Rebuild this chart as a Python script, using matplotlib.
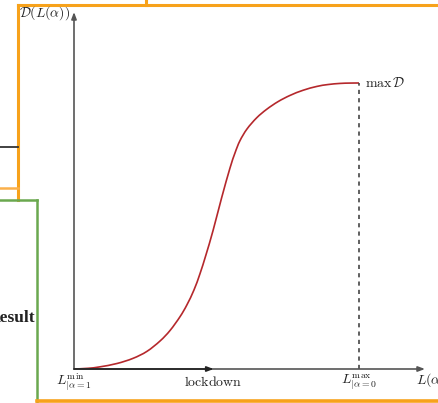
import matplotlib
matplotlib.use("Agg")
import matplotlib.pyplot as plt
from matplotlib.lines import Line2D
from matplotlib.path import Path
from matplotlib.patches import PathPatch

plt.rcParams['mathtext.fontset'] = 'cm'
plt.rcParams['font.family'] = ['DejaVu Serif']

# Curve data (normalized: L from L_min=0 to L_max=1, D from 0 to max D = 1)
L_vals = [0.0, 0.049, 0.091, 0.151, 0.207, 0.256, 0.302, 0.337, 0.372, 0.396, 0.421,
          0.442, 0.463, 0.488, 0.518, 0.547, 0.565, 0.582, 0.607, 0.641, 0.676, 0.716,
          0.758, 0.804, 0.852, 0.891, 0.933, 0.968, 1.0]
D_vals = [0.0, 0.0024, 0.0075, 0.0193, 0.0372, 0.0617, 0.098, 0.1347, 0.1829, 0.2239, 0.2764,
          0.333, 0.399, 0.4846, 0.5986, 0.7016, 0.7557, 0.7977, 0.8392, 0.8783, 0.908, 0.9349,
          0.9566, 0.9747, 0.988, 0.9946, 0.9985, 0.9997, 1.0]
lockdown_L = 0.49
x_tick_labels = [r'$L^{\min}_{|\alpha=1}$', r'$\mathrm{lockdown}$', r'$L^{\max}_{|\alpha=0}$']
x_label = r'$L(\alpha)$'
y_label = r'$\mathcal{D}(L(\alpha))$'
max_label = r'$\max\,\mathcal{D}$'

W, H = 439, 403
fig = plt.figure(figsize=(W / 100, H / 100), dpi=100)
fig.patch.set_facecolor('white')

# overlay for screenshot frame decorations (pixel coords)
ov = fig.add_axes([0, 0, 1, 1])
ov.set_xlim(0, W)
ov.set_ylim(H, 0)
ov.axis('off')
orange = '#f7a21b'
green = '#6aa84f'
ov.add_line(Line2D([18, W], [5, 5], color=orange, lw=2.2))
ov.add_line(Line2D([146, 146], [0, 5], color=orange, lw=2.2))
ov.add_line(Line2D([18, 18], [5, 200], color=orange, lw=2.2))
ov.add_line(Line2D([0, 18], [188, 188], color='#fbb04a', lw=1.8))
ov.add_line(Line2D([0, 18], [147, 147], color='#333333', lw=1.3))
ov.add_line(Line2D([0, 37], [200, 200], color=green, lw=1.8))
ov.add_line(Line2D([37, 37], [200, H], color=green, lw=1.8))
ov.add_line(Line2D([37, W], [401, 401], color=orange, lw=2.6))
ov.text(35, 318, 'Result', ha='right', va='center', fontsize=12.5,
        fontweight='bold', family='Liberation Serif', color='#222222')

# main axes
x0_px, x1_px = 74, 359
y0_px, y1_px = 369, 83
sx = (x1_px - x0_px)
sy = (y0_px - y1_px)
xmax = (425 - x0_px) / sx
ymax = (y0_px - 12) / sy
ax = fig.add_axes([x0_px / W, (H - y0_px) / H, (425 - x0_px) / W, (y0_px - 12) / H])
ax.set_xlim(0, xmax)
ax.set_ylim(0, ymax)
ax.axis('off')
ax.patch.set_alpha(0)

axc = '#555555'
ax.annotate('', xy=(0, ymax), xytext=(0, 0),
            arrowprops=dict(arrowstyle='-|>,head_length=0.4,head_width=0.15', color=axc, lw=1.2,
                            shrinkA=0, shrinkB=0))
ax.annotate('', xy=(xmax, 0), xytext=(0, 0),
            arrowprops=dict(arrowstyle='-|>,head_length=0.4,head_width=0.15', color=axc, lw=1.2,
                            shrinkA=0, shrinkB=0))
ax.annotate('', xy=(lockdown_L, 0), xytext=(0, 0),
            arrowprops=dict(arrowstyle='-|>,head_length=0.4,head_width=0.15', color='#222222', lw=1.2,
                            shrinkA=0, shrinkB=0))

# smooth curve through the data points (Catmull-Rom as cubic Bezier segments)
pts = list(zip(L_vals, D_vals))
verts = [pts[0]]
codes = [Path.MOVETO]
n = len(pts)
for i in range(n - 1):
    p0 = pts[i - 1] if i > 0 else pts[i]
    p1 = pts[i]
    p2 = pts[i + 1]
    p3 = pts[i + 2] if i + 2 < n else pts[i + 1]
    c1 = (p1[0] + (p2[0] - p0[0]) / 6, p1[1] + (p2[1] - p0[1]) / 6)
    c2 = (p2[0] - (p3[0] - p1[0]) / 6, p2[1] - (p3[1] - p1[1]) / 6)
    verts += [c1, c2, p2]
    codes += [Path.CURVE4] * 3
ax.add_patch(PathPatch(Path(verts, codes), facecolor='none', edgecolor='#b5282c', lw=1.2))

ax.plot([1, 1], [0, max(D_vals)], color='#444444', lw=1.2, ls=(0, (2.5, 2.5)))

tick_pos = [0, lockdown_L, 1]
for p, t in zip(tick_pos, x_tick_labels):
    ax.text(p, -13 / sy, t, ha='center', va='center', fontsize=10, color='#222222', clip_on=False)
ax.text((416 - x0_px) / sx, -11 / sy, x_label, ha='left', va='center', fontsize=10,
        color='#222222', clip_on=False)
ax.text(1 + 6 / sx, max(D_vals), max_label, ha='left', va='center', fontsize=10,
        color='#222222', clip_on=False)
ax.text(-4 / sx, (y0_px - 13) / sy, y_label, ha='right', va='center', fontsize=10,
        color='#222222', clip_on=False)

fig.savefig('out.png', dpi=100, facecolor='white')
